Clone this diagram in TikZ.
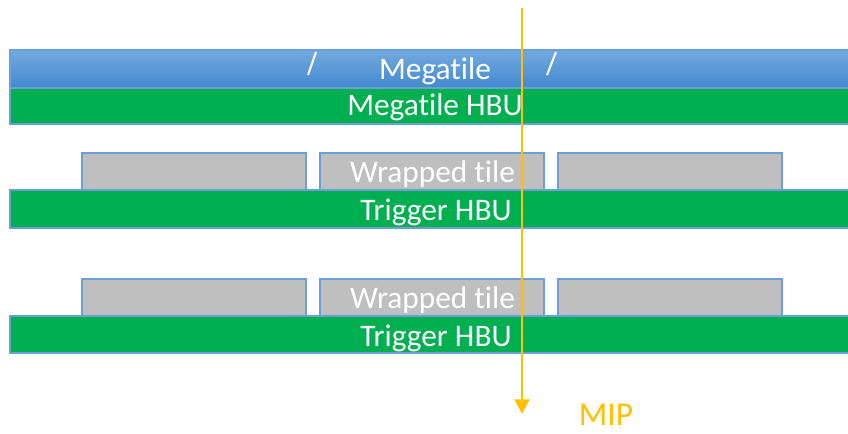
\documentclass[tikz,border=0pt]{standalone}
\usepackage{fontspec}
\setmainfont{Carlito}[Ligatures=NoCommon]
\usetikzlibrary{arrows.meta}
\definecolor{hbugreen}{HTML}{00B050}
\definecolor{tilegray}{HTML}{BFBFBF}
\definecolor{edgeblue}{HTML}{6A9FD8}
\definecolor{mtop}{HTML}{72AADF}
\definecolor{mbot}{HTML}{4389CF}
\definecolor{mip}{HTML}{FFC000}
\tikzset{
  hbu/.style={fill=hbugreen,draw=edgeblue,line width=1pt},
  tilebox/.style={fill=tilegray,draw=edgeblue,line width=1pt},
  lbl/.style={text=white,font=\fontsize{23.5}{26}\selectfont,inner sep=0pt,anchor=base},
}
\begin{document}
\begin{tikzpicture}[x=0.75pt,y=-0.75pt]
\useasboundingbox (0,0) rectangle (848,433);
\clip (0,0) rectangle (848,433);
% megatile
\shade[top color=mtop,bottom color=mbot,draw=edgeblue,line width=0.8pt] (10,50) rectangle (852,88);
\draw[white,line width=1.5pt] (316,52) -- (308,75);
\draw[white,line width=1.5pt] (556,52) -- (547,75);
\node[lbl] (mt) at (435,79) {Megatile};
\draw[hbu] (10,88) rectangle (852,124);
\node[lbl] (mthbu) at (435,115) {Megatile HBU};
% row 1
\draw[tilebox] (82,153) rectangle (306,190);
\draw[tilebox] (320,153) rectangle (544,190);
\draw[tilebox] (558,153) rectangle (782,190);
\node[lbl] (wt1) at (432.5,182) {Wrapped tile};
\draw[hbu] (10,190) rectangle (852,228);
\node[lbl] (th1) at (436,220) {Trigger HBU};
% row 2
\draw[tilebox] (82,279) rectangle (306,316);
\draw[tilebox] (320,279) rectangle (544,316);
\draw[tilebox] (558,279) rectangle (782,316);
\node[lbl] (wt2) at (432.5,308) {Wrapped tile};
\draw[hbu] (10,316) rectangle (852,353);
\node[lbl] (th2) at (436,346) {Trigger HBU};
% MIP arrow
\coordinate (mipstart) at (522,8);
\coordinate (mipend) at (522,414);
\draw[mip,line width=2.2pt,-{Triangle[length=11pt,width=11pt]}] (mipstart) -- (mipend);
\node[text=mip,font=\fontsize{25}{28}\selectfont,inner sep=0pt,anchor=base] (miplbl) at (606,425) {MIP};
\end{tikzpicture}
\end{document}
